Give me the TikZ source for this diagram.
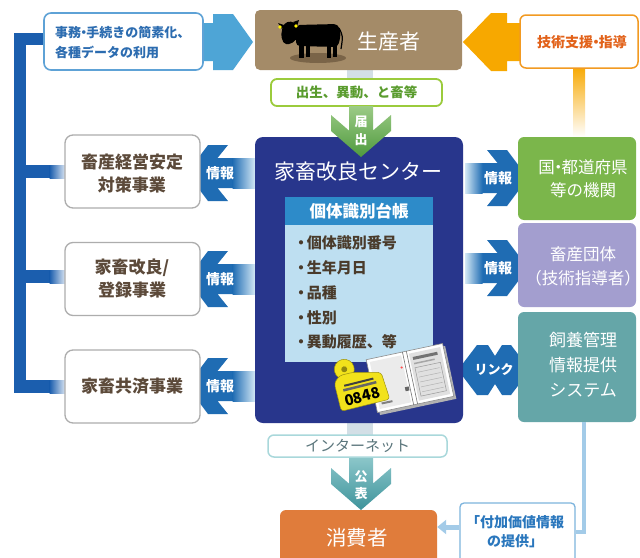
\documentclass[tikz,border=0pt]{standalone}
\usepackage{fontspec}
\setmainfont{Noto Sans CJK JP}
\usetikzlibrary{arrows.meta}

\definecolor{navy}{HTML}{28368C}
\definecolor{barblue}{HTML}{1B5EAE}
\definecolor{infoblue}{HTML}{1F6CB3}
\definecolor{infofade}{HTML}{D3E8F5}
\definecolor{skyarrow}{HTML}{4EA5D6}
\definecolor{skyborder}{HTML}{5EA2D6}
\definecolor{skytext}{HTML}{2C6CB0}
\definecolor{cowtan}{HTML}{A48B68}
\definecolor{tanshadow}{HTML}{7A6448}
\definecolor{orangearrow}{HTML}{F7A800}
\definecolor{orangeborder}{HTML}{F29A22}
\definecolor{orangetext}{HTML}{E2621A}
\definecolor{limeborder}{HTML}{9BCB3C}
\definecolor{limetext}{HTML}{5A9C2E}
\definecolor{greenarrowtop}{HTML}{9CCB86}
\definecolor{greenarrowbot}{HTML}{4F9A3E}
\definecolor{headerblue}{HTML}{2D8BC9}
\definecolor{paleblue}{HTML}{BEDFF1}
\definecolor{itembrown}{HTML}{4A3B2B}
\definecolor{boxgray}{HTML}{ADADAD}
\definecolor{boxbrown}{HTML}{5C4A3A}
\definecolor{leafgreen}{HTML}{7BB64B}
\definecolor{lavender}{HTML}{A39ECF}
\definecolor{seateal}{HTML}{65A6A8}
\definecolor{tealtop}{HTML}{8CC7CA}
\definecolor{tealbot}{HTML}{3E939B}
\definecolor{netborder}{HTML}{A9D8DB}
\definecolor{nettext}{HTML}{5B767C}
\definecolor{carrot}{HTML}{E07C3B}
\definecolor{valueborder}{HTML}{7DB4DD}
\definecolor{valuetext}{HTML}{2A77BD}
\definecolor{valueline}{HTML}{A3CBE8}
\definecolor{stubgray}{HTML}{D3DFE6}
\definecolor{tagyellow}{HTML}{F2E21B}

% narrow middle dots
\newcommand\middot{\kern-0.3em・\kern-0.3em}
\newcommand\bulletdot{\kern-0.3em・\kern-0.12em}

\tikzset{
  every node/.style={inner sep=0pt},
  infolabel/.style={text=white, font=\fontsize{14}{14}\selectfont\bfseries},
  lightbox/.style={draw=boxgray, line width=1.3pt, fill=white, rounded corners=8pt,
                   minimum width=135pt, minimum height=73pt},
  lighttext/.style={text=boxbrown, align=center, font=\fontsize{17}{23}\selectfont\bfseries},
  colbox/.style={rounded corners=6pt, minimum width=118pt},
  coltext/.style={text=white, align=center, font=\fontsize{16.5}{24}\selectfont},
  item/.style={anchor=west, text=itembrown, font=\fontsize{15}{15}\selectfont\bfseries},
  pics/infoleft/.style={code={
    \fill[infoblue] (0,0) -- (21,-28) -- (41,-28) -- (30.5,-15) -- (46,-15)
      -- (46,15) -- (30.5,15) -- (41,28) -- (21,28) -- cycle;
    \shade[left color=infoblue, right color=infofade] (45.5,-15) rectangle (68,15);
    \node[infolabel] (-label) at (33,0) {情報};
  }},
  pics/inforight/.style={code={
    \fill[infoblue] (0,0) -- (-21,-28) -- (-41,-28) -- (-30.5,-15) -- (-46,-15)
      -- (-46,15) -- (-30.5,15) -- (-41,28) -- (-21,28) -- cycle;
    \shade[left color=infofade, right color=infoblue] (-63,-15) rectangle (-45.5,15);
    \node[infolabel] (-label) at (-30,0) {情報};
  }},
}

\begin{document}
\begin{tikzpicture}[x=1pt, y=-1pt]
\useasboundingbox (0,0) rectangle (640,557);
\fill[white] (0,0) rectangle (640,557);

% feedback bar on the left
\fill[barblue] (14,33) rectangle (26,393);
\fill[barblue] (14,33) rectangle (46,45);
\foreach \ya/\yb in {165/178, 270/283, 380/393} {
  \fill[barblue] (26,\ya) rectangle (50,\yb);
  \shade[left color=barblue, right color=barblue!12] (49.5,\ya) rectangle (66,\yb);
}

% block arrows
\fill[skyarrow] (198,23) -- (213,23) -- (213,14) -- (233,14) -- (253,42)
  -- (233,70) -- (213,70) -- (213,61) -- (198,61) -- cycle;
\fill[orangearrow] (463,42) -- (491,13) -- (507,13) -- (507,23) -- (524,23)
  -- (524,61) -- (507,61) -- (507,71) -- (491,71) -- cycle;
\shade[top color=orangearrow, middle color=yellow!75!orangearrow, bottom color=white]
  (573,66) rectangle (585,137);

\fill[stubgray] (347,70) rectangle (373,80);
\fill[stubgray] (347,423) rectangle (373,436);

\shade[top color=tealtop, bottom color=tealbot]
  (349,457) -- (349,483.6) -- (331,468) -- (331,484) -- (361,510) -- (391,484)
  -- (391,468) -- (373,483.6) -- (373,457) -- cycle;

\pic (infoA) at (187,173) {infoleft};
\pic (infoB) at (187,279) {infoleft};
\pic (infoC) at (187,386) {infoleft};
\pic (infoD) at (528,178) {inforight};
\pic (infoE) at (528,268) {inforight};

\fill[infoblue] (458,370) -- (477,345) -- (488,345) -- (495,356) -- (502,345)
  -- (511,345) -- (530,370) -- (511,395) -- (502,395) -- (495,384) -- (488,395)
  -- (477,395) -- cycle;
\node[infolabel, font=\fontsize{13}{13}\selectfont\bfseries] (link) at (494,370) {リンク};

% top row
\node[draw=skyborder, line width=1.6pt, fill=white, rounded corners=7pt,
      minimum width=159pt, minimum height=57pt] (paper) at (123.5,41.5) {};
\node[anchor=west, align=left, text=skytext, font=\fontsize{13}{20}\selectfont\bfseries]
  (papertext) at (55,43) {事務\middot 手続きの簡素化、\\各種データの利用};

\node[fill=cowtan, rounded corners=5pt, minimum width=207pt, minimum height=60pt]
  (farmer) at (358.5,40) {};
\node[text=white, font=\fontsize{21}{21}\selectfont] (farmertext) at (389,42) {生産者};

% cow
\fill[tanshadow] (318,58) ellipse [x radius=28pt, y radius=5pt];
\fill[black, rounded corners=4pt] (296,25) -- (338,24) -- (341,34) -- (338,47) -- (296,46) -- cycle;
\fill[black, rounded corners=2pt] (298,24) -- (289,21) -- (283,25) -- (281,36)
  -- (284,44) -- (291,44) -- (300,36) -- cycle;
\fill[black] (284,25) -- (278,23) -- (282,29) -- cycle;
\fill[black] (293,22) -- (299,20) -- (297,26) -- cycle;
\fill[black] (299,44) rectangle (304,58);
\fill[black] (306,44) rectangle (310,57);
\fill[black] (327,44) rectangle (331,58);
\fill[black] (333,44) rectangle (337,57);
\draw[black, line width=1.2pt] (339,28) .. controls (343,36) .. (341,49);
\fill[yellow] (280,27) circle [radius=1.8pt];
\fill[yellow] (296,26) circle [radius=1.8pt];

\node[draw=orangeborder, line width=1.5pt, fill=white, rounded corners=6pt,
      minimum width=118pt, minimum height=53pt] (support) at (579,41.5) {};
\node[text=orangetext, font=\fontsize{14}{14}\selectfont\bfseries] (supporttext)
  at (582,42) {技術支援\middot 指導};

\node[draw=limeborder, line width=1.8pt, fill=white, rounded corners=6pt,
      minimum width=171pt, minimum height=27pt, text=limetext,
      font=\fontsize{13.5}{13.5}\selectfont\bfseries] (events) at (356.5,92.5) {出生、異動、と畜等};

% livestock improvement centre
\node[fill=navy, rounded corners=8pt, minimum width=208pt, minimum height=286pt]
  (centre) at (359,280) {};
\node[text=white, font=\fontsize{21}{21}\selectfont] (centretitle) at (358,172) {家畜改良センター};
\node[fill=headerblue, minimum width=148pt, minimum height=28pt, text=white,
      font=\fontsize{16.5}{16.5}\selectfont\bfseries] (ledgerhead) at (359,211) {個体識別台帳};
\node[fill=paleblue, minimum width=148pt, minimum height=137pt] (ledger) at (359,293.5) {};
\node[item] (item1) at (298,243) {\bulletdot 個体識別番号};
\node[item] (item2) at (298,268) {\bulletdot 生年月日};
\node[item] (item3) at (298,293) {\bulletdot 品種};
\node[item] (item4) at (298,318) {\bulletdot 性別};
\node[item] (item5) at (298,342) {\bulletdot 異動履歴、等};

% notification arrow overlapping the centre box
\shade[top color=greenarrowtop, bottom color=greenarrowbot]
  (349,106) -- (349,130.6) -- (331,115) -- (331,131) -- (361,157) -- (391,131)
  -- (391,115) -- (373,130.6) -- (373,106) -- cycle;
\node[text=white, font=\fontsize{13}{13}\selectfont\bfseries] (notify1) at (361,122) {届};
\node[text=white, font=\fontsize{13}{13}\selectfont\bfseries] (notify2) at (361,140) {出};

% register book
\begin{scope}[shift={(410,378)}, rotate=12]
  \fill[black!30] (-37,-24) rectangle (41,30);
  \filldraw[fill=white, draw=black!45, line width=0.6pt] (-39,-27) rectangle (39,27);
  \fill[black!8] (-36,-24) rectangle (-4,24);
  \fill[black!12] (4,-24) rectangle (36,24);
  \draw[black!55, line width=0.6pt] (-2,-27) -- (-2,27);
  \draw[black!55, line width=0.6pt] (2,-27) -- (2,27);
  \fill[black!55] (7,-20) rectangle (32,-17);
  \fill[black!35] (7,-14) rectangle (28,-12.5);
  \draw[black!40, line width=0.5pt] (7,-9) rectangle (33,20);
  \foreach \yy in {-4,1,6,11,16} \draw[black!30, line width=0.5pt] (9,\yy) -- (31,\yy);
  \fill[black!60] (-7,8) rectangle (-3,12);
  \fill[red!70] (-6,-12) circle [radius=1.2pt];
  \fill[black!50] (-33,18) rectangle (-22,20);
\end{scope}

% ear tag
\begin{scope}[shift={(360,387)}, rotate=14]
  \filldraw[fill=tagyellow, draw=black!35!tagyellow, line width=0.5pt]
    (-11,-21) circle [radius=10pt];
  \filldraw[fill=tagyellow, draw=black!35!tagyellow, line width=0.5pt, rounded corners=3pt]
    (-24,-10) -- (-17,-16) -- (-4,-16) -- (24,-9) -- (26,19) -- (-24,19) -- cycle;
  \fill[tagyellow!60!black] (-11,-21) circle [radius=3pt];
  \fill[black!75] (-15,-6) rectangle (15,-4);
  \fill[black!60] (-17,-2) rectangle (17,0.5);
  \node[transform shape, text=black, font=\fontsize{15}{15}\selectfont\bfseries]
    (tagnumber) at (0,10) {0848};
\end{scope}

% side boxes on the left
\node[lightbox] (stable) at (132.5,171.5) {};
\node[lighttext] (stabletext) at (132,173.5) {畜産経営安定\\対策事業};
\node[lightbox] (breeding) at (132.5,279) {};
\node[lighttext] (breedingtext) at (132,278.5) {家畜改良/\\登録事業};
\node[lightbox] (mutual) at (132.5,386.5) {};
\node[lighttext] (mutualtext) at (132,386) {家畜共済事業};

% side boxes on the right
\node[colbox, fill=leafgreen, minimum height=83pt] (gov) at (577,178.5) {};
\node[coltext, font=\fontsize{16.5}{23}\selectfont] (govtext) at (583,178.5) {国\middot 都道府県\\等の機関};
\node[colbox, fill=lavender, minimum height=84pt] (assoc) at (577,265) {};
\node[coltext] (assoctext) at (583,266) {畜産団体\\（技術指導者）};
\node[colbox, fill=seateal, minimum height=110pt] (sysbox) at (577,367) {};
\node[coltext, font=\fontsize{17}{25}\selectfont] (systext) at (583,365) {飼養管理\\情報提供\\システム};

% bottom
\node[draw=netborder, line width=1.5pt, fill=white, rounded corners=6pt,
      minimum width=179pt, minimum height=22pt, text=nettext,
      font=\fontsize{15}{15}\selectfont] (net) at (357.5,446) {インターネット};
\node[text=white, font=\fontsize{13}{13}\selectfont\bfseries] (publish1) at (361,477) {公};
\node[text=white, font=\fontsize{13}{13}\selectfont\bfseries] (publish2) at (361,494) {表};

\node[fill=carrot, rounded corners=6pt, minimum width=157pt, minimum height=60pt]
  (consumer) at (358.5,540) {};
\node[text=white, font=\fontsize{20.5}{20.5}\selectfont] (consumertext) at (357,538) {消費者};

\node[draw=valueborder, line width=1.3pt, fill=white, rounded corners=4pt,
      minimum width=115pt, minimum height=64pt] (value) at (517.5,535) {};
\node[text=valuetext, align=center, font=\fontsize{14}{19}\selectfont\bfseries]
  (valuetext) at (515,532) {「付加価値情報\\の提供」};
\draw[valueline, line width=4pt] ([xshift=7pt]sysbox.south) |- ([yshift=3pt]value.east);
\draw[valueline, line width=5pt, -{Triangle[width=14pt,length=9pt]}]
  ([yshift=8pt]value.west) -- ([yshift=8pt]value.west -| consumer.east);
\end{tikzpicture}
\end{document}
